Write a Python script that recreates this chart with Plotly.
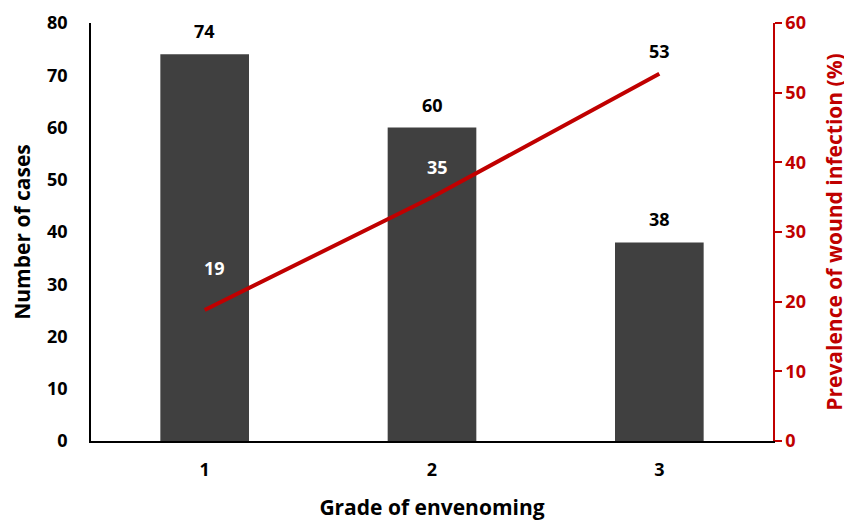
import plotly.graph_objects as go

grades = ["1", "2", "3"]
cases = [74, 60, 38]
prevalence = [18.8, 35.0, 52.7]
prev_labels = ["19", "35", "53"]
label_colors = ["white", "white", "black"]
label_shift = [42, 30, 23]
label_xshift = [10, 5, 0]

RED = "#C00000"
FONT = "Open Sans"

fig = go.Figure()
fig.add_trace(go.Bar(
    x=grades, y=cases, marker_color="#404040", marker_line_width=0,
    width=0.39, yaxis="y", showlegend=False))
fig.add_trace(go.Scatter(
    x=grades, y=prevalence, mode="lines", line=dict(color=RED, width=4),
    yaxis="y2", showlegend=False))
for i, v in enumerate(cases):
    fig.add_annotation(x=i, y=v, yref="y", text=str(v), showarrow=False,
                       yshift=23, font=dict(family=FONT, size=18, color="black", weight="bold"))
for i, (p, t, c, s, xs) in enumerate(zip(prevalence, prev_labels, label_colors, label_shift, label_xshift)):
    fig.add_annotation(x=i, y=p, yref="y2", text=t, showarrow=False,
                       yshift=s, xshift=xs,
                       font=dict(family=FONT, size=18, color=c, weight="bold"))

fig.update_layout(
    width=844, height=513, plot_bgcolor="white", paper_bgcolor="white",
    margin=dict(l=83, r=79, t=15, b=80),
    xaxis=dict(range=[-0.5, 2.5], showline=True, linecolor="black", linewidth=1.5,
               ticks="", ticklabelstandoff=12, automargin=False,
               tickfont=dict(family=FONT, size=18, color="black", weight="bold"),
               title=dict(text="Grade of envenoming", standoff=23,
                          font=dict(family=FONT, size=21, color="black", weight="bold"))),
    yaxis=dict(range=[0, 80], dtick=10, showline=True, linecolor="black", linewidth=1.5,
               showgrid=False, zeroline=False, ticks="", ticklabelstandoff=18, automargin=False,
               tickfont=dict(family=FONT, size=18, color="black", weight="bold"),
               title=dict(text="Number of cases", standoff=16,
                          font=dict(family=FONT, size=21, color="black", weight="bold"))),
    yaxis2=dict(range=[0, 60], dtick=10, overlaying="y", side="right", showline=True,
                linecolor=RED, linewidth=1.5, showgrid=False, zeroline=False, automargin=False,
                ticks="outside", ticklen=7, tickcolor=RED, tickwidth=1.5,
                tickfont=dict(family=FONT, size=18, color=RED, weight="bold"),
                title=dict(text="Prevalence of wound infection (%)", standoff=22,
                           font=dict(family=FONT, size=21, color=RED, weight="bold"))),
)
fig.write_html("out.html")
